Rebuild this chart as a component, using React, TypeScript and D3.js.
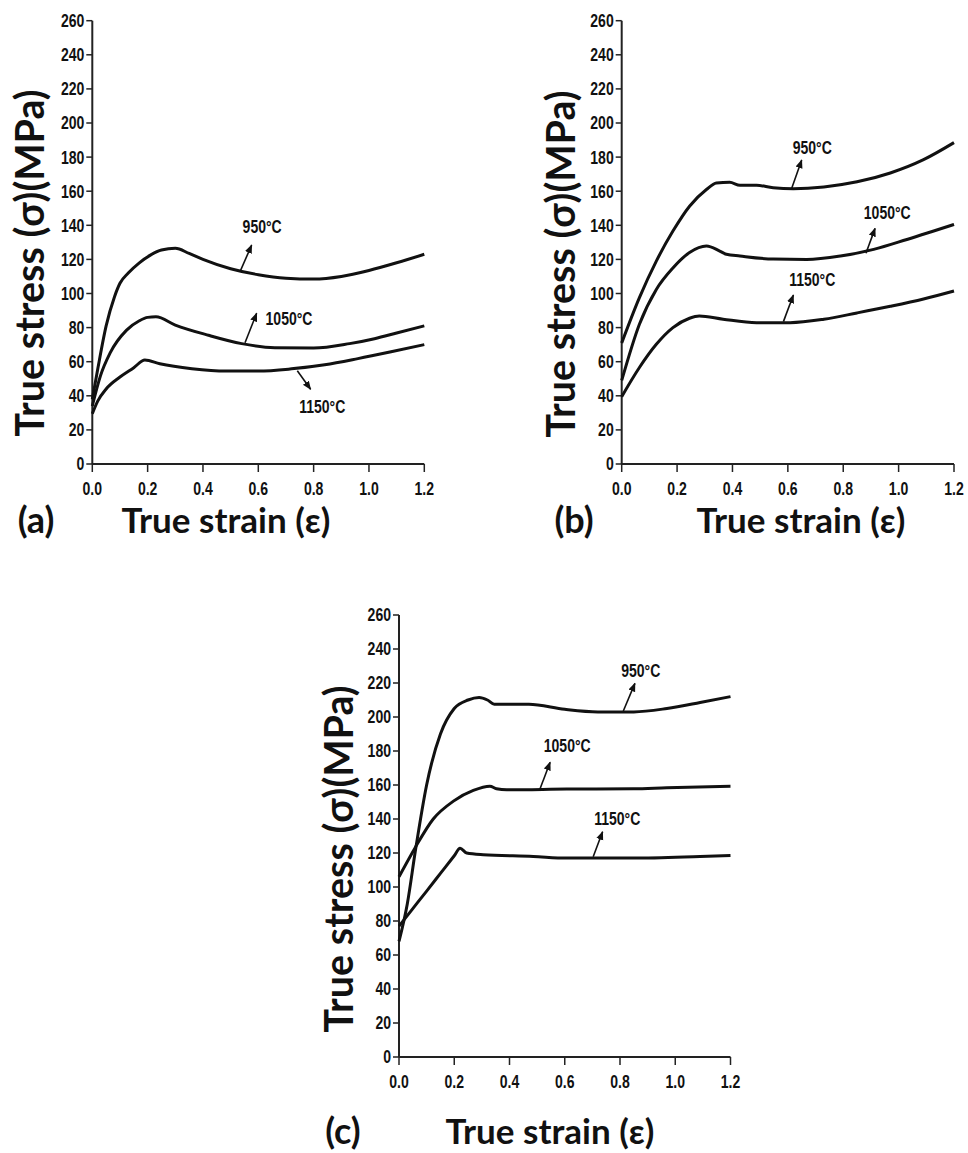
import React from 'react';
import * as d3 from 'd3';

type Pt = [number, number];

const strainTicks = [0, 0.2, 0.4, 0.6, 0.8, 1.0, 1.2];
const stressTicks = [0, 20, 40, 60, 80, 100, 120, 140, 160, 180, 200, 220, 240, 260];
const tempLabels = ['950°C', '1050°C', '1150°C'];
const panelLetters = ['(a)', '(b)', '(c)'];
const yTitle = 'True stress (σ)(MPa)';
const xTitle = 'True strain (ε)';

// Panel (a)
const a950: Pt[] = [[0, 38], [0.02, 56], [0.05, 81], [0.08, 98], [0.1, 106], [0.13, 112], [0.17, 118], [0.21, 122.5], [0.25, 125.5], [0.3, 126.5], [0.35, 123.5], [0.4, 120], [0.5, 114.5], [0.6, 111], [0.7, 109], [0.8, 108.5], [0.9, 110], [1.0, 113.5], [1.1, 118], [1.2, 123]];
const a1050: Pt[] = [[0, 34], [0.03, 52], [0.064, 65], [0.124, 78.5], [0.17, 84], [0.2, 86], [0.23, 86.3], [0.3, 81.5], [0.42, 75.5], [0.54, 70.6], [0.66, 68.2], [0.8, 68], [0.93, 70.6], [1.02, 73.5], [1.1, 76.8], [1.2, 81]];
const a1150: Pt[] = [[0, 29.5], [0.02, 37], [0.05, 44], [0.1, 51], [0.15, 56.5], [0.19, 61], [0.244, 58.8], [0.36, 55.9], [0.484, 54.5], [0.6, 54.5], [0.72, 55.8], [0.84, 58.2], [0.96, 61.8], [1.08, 65.8], [1.2, 70]];

// Panel (b)
const b950: Pt[] = [[0, 71], [0.064, 97.6], [0.125, 119], [0.185, 136.6], [0.245, 151.2], [0.306, 161], [0.342, 164.8], [0.39, 165.2], [0.427, 163.5], [0.487, 163.5], [0.547, 162], [0.62, 161.5], [0.73, 162.5], [0.85, 165.5], [0.97, 170.7], [1.09, 178.5], [1.2, 188.5]];
const b1050: Pt[] = [[0, 49], [0.064, 82], [0.125, 102.4], [0.185, 115], [0.245, 124], [0.306, 127.8], [0.354, 124.9], [0.378, 123], [0.427, 122], [0.547, 120.2], [0.668, 120], [0.79, 122], [0.91, 125.9], [1.03, 131.7], [1.2, 140.5]];
const b1150: Pt[] = [[0, 39.5], [0.064, 56.6], [0.125, 70.2], [0.185, 80], [0.245, 85.5], [0.28, 86.8], [0.366, 84.9], [0.487, 82.9], [0.608, 82.9], [0.73, 84.9], [0.85, 88.6], [0.97, 92.5], [1.09, 96.8], [1.2, 101.5]];

// Panel (c)
const c950: Pt[] = [[0, 68], [0.03, 90], [0.06, 122], [0.1, 160], [0.15, 190], [0.2, 205], [0.25, 210], [0.29, 211.5], [0.32, 210], [0.345, 207.5], [0.47, 207.5], [0.6, 204.5], [0.72, 203], [0.85, 203], [0.97, 205], [1.09, 208.5], [1.2, 212]];
const c1050: Pt[] = [[0, 106], [0.058, 123], [0.124, 140], [0.197, 150.5], [0.269, 156.8], [0.329, 159.3], [0.353, 157.8], [0.39, 157.2], [0.607, 157.6], [0.848, 157.8], [0.969, 158.4], [1.2, 159.3]];
const c1150: Pt[] = [[0, 77], [0.05, 87.3], [0.1, 97.6], [0.15, 108], [0.2, 118.4], [0.221, 122.8], [0.245, 120], [0.305, 119], [0.486, 118], [0.607, 117], [0.848, 117], [1.09, 118], [1.2, 118.6]];

// Annotations (data units): label position, arrow start, arrow end
const aNotes = [
  { label: [0.614, 139.2], from: [0.534, 112.8], to: [0.576, 128.4] },
  { label: [0.711, 85.5], from: [0.552, 71.1], to: [0.594, 88.4] },
  { label: [0.831, 34], from: [0.741, 54.7], to: [0.789, 43.8] },
];
const bNotes = [
  { label: [0.688, 185.7], from: [0.614, 161.7], to: [0.65, 178.3] },
  { label: [0.959, 147.4], from: [0.882, 123.6], to: [0.915, 138.2] },
  { label: [0.688, 108.3], from: [0.584, 83.5], to: [0.62, 99.1] },
];
const cNotes = [
  { label: [0.875, 227.2], from: [0.812, 203.5], to: [0.854, 219.8] },
  { label: [0.609, 183], from: [0.51, 157.5], to: [0.547, 173.4] },
  { label: [0.79, 140], from: [0.703, 117.8], to: [0.737, 132.5] },
];

const panels = [
  { series: [a950, a1050, a1150], notes: aNotes, x0: 92.3, x1: 424.3, yTop: 20.7, yBot: 464, yTitleX: 30, yTitleY: 263, letterX: 36, xTitleX: 226, bottomOffset: 56 },
  { series: [b950, b1050, b1150], notes: bNotes, x0: 621.7, x1: 954, yTop: 20.7, yBot: 464, yTitleX: 561, yTitleY: 264, letterX: 574, xTitleX: 801, bottomOffset: 56 },
  { series: [c950, c1050, c1150], notes: cNotes, x0: 399, x1: 730.5, yTop: 615, yBot: 1057, yTitleX: 339, yTitleY: 859, letterX: 343, xTitleX: 550, bottomOffset: 74 },
];

const narrow = "'Liberation Sans', Arial, sans-serif";
const big = "Lato, 'Open Sans', sans-serif";

function NarrowText({ x, y, anchor, size, children }: { x: number; y: number; anchor: string; size: number; children: React.ReactNode }) {
  return (
    <text transform={`translate(${x},${y}) scale(0.78,1)`} dy="0.36em" textAnchor={anchor} fontFamily={narrow} fontWeight="bold" fontSize={size} fill="#111">{children}</text>
  );
}

function Panel({ p, idx }: { p: typeof panels[number]; idx: number }) {
  const x = d3.scaleLinear().domain([0, 1.2]).range([p.x0, p.x1]);
  const y = d3.scaleLinear().domain([0, 260]).range([p.yBot, p.yTop]);
  const line = d3.line<Pt>().x(d => x(d[0])).y(d => y(d[1])).curve(d3.curveMonotoneX);
  return (
    <g>
      <line x1={p.x0} x2={p.x0} y1={p.yTop} y2={p.yBot} stroke="#222" strokeWidth={2} />
      <line x1={p.x0} x2={p.x1} y1={p.yBot} y2={p.yBot} stroke="#222" strokeWidth={2} />
      {stressTicks.map(t => (
        <g key={'y' + t}>
          <line x1={p.x0 - 6} x2={p.x0} y1={y(t)} y2={y(t)} stroke="#222" strokeWidth={1.5} />
          <NarrowText x={p.x0 - 8} y={y(t)} anchor="end" size={18}>{t}</NarrowText>
        </g>
      ))}
      {strainTicks.map(t => (
        <g key={'x' + t}>
          <line x1={x(t)} x2={x(t)} y1={p.yBot} y2={p.yBot + 8} stroke="#222" strokeWidth={1.5} />
          <NarrowText x={x(t)} y={p.yBot + 25} anchor="middle" size={18}>{t.toFixed(1)}</NarrowText>
        </g>
      ))}
      {p.series.map((s, i) => (
        <path key={'s' + i} d={line(s) || ''} fill="none" stroke="#111" strokeWidth={3} strokeLinejoin="round" />
      ))}
      {p.notes.map((n, i) => (
        <g key={'n' + i}>
          <line x1={x(n.from[0])} y1={y(n.from[1])} x2={x(n.to[0])} y2={y(n.to[1])} stroke="#111" strokeWidth={1.6} markerEnd="url(#arrow)" />
          <NarrowText x={x(n.label[0])} y={y(n.label[1])} anchor="middle" size={18}>{tempLabels[i]}</NarrowText>
        </g>
      ))}
      <text transform={`translate(${p.yTitleX},${p.yTitleY}) rotate(-90)`} dy="0.36em" textAnchor="middle" fontFamily={big} fontWeight="bold" fontSize={39.5} fill="#111">{yTitle}</text>
      <text x={p.xTitleX} y={p.yBot + p.bottomOffset} dy="0.36em" textAnchor="middle" fontFamily={big} fontWeight="bold" fontSize={35} fill="#111">{xTitle}</text>
      <text x={p.letterX} y={p.yBot + p.bottomOffset} dy="0.36em" textAnchor="middle" fontFamily={big} fontWeight="bold" fontSize={36} fill="#111">{panelLetters[idx]}</text>
    </g>
  );
}

export default function App() {
  return (
    <svg width={968} height={1153} style={{ position: 'absolute', left: 0, top: 0, background: '#fff' }}>
      <defs>
        <marker id="arrow" viewBox="0 0 10 10" refX="9" refY="5" markerWidth="9" markerHeight="9" markerUnits="userSpaceOnUse" orient="auto">
          <path d="M0,1 L10,5 L0,9 z" fill="#111" />
        </marker>
      </defs>
      <rect width={968} height={1153} fill="#fff" />
      {panels.map((p, i) => <Panel key={i} p={p} idx={i} />)}
    </svg>
  );
}
